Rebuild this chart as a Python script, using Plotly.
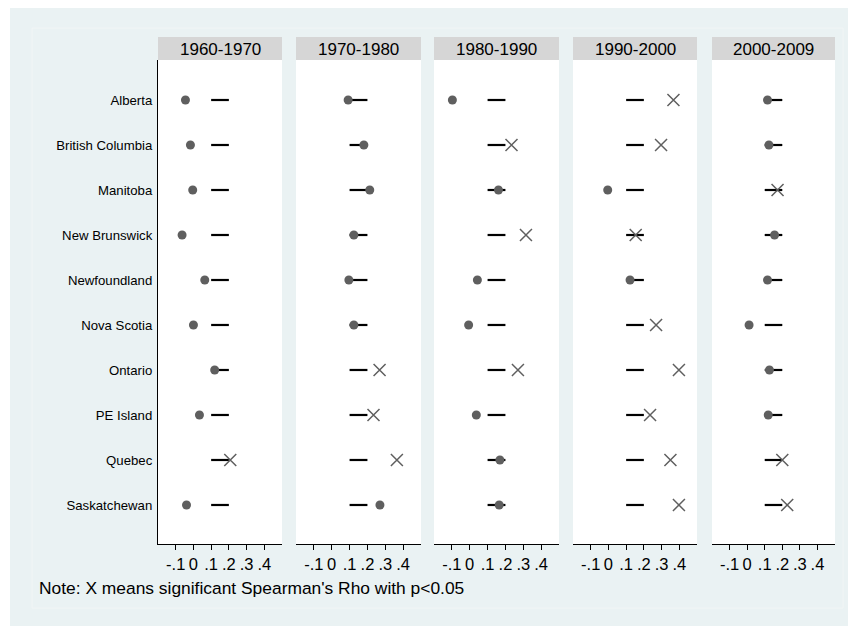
import plotly.graph_objects as go

periods = ["1960-1970", "1970-1980", "1980-1990", "1990-2000", "2000-2009"]
provinces = ["Alberta", "British Columbia", "Manitoba", "New Brunswick", "Newfoundland",
             "Nova Scotia", "Ontario", "PE Island", "Quebec", "Saskatchewan"]

rho_1960 = [-0.045, -0.017, -0.004, -0.064, 0.064, 0.000, 0.120, 0.034, 0.208, -0.039]
sig_1960 = [0, 0, 0, 0, 0, 0, 0, 0, 1, 0]
rho_1970 = [0.092, 0.180, 0.213, 0.124, 0.096, 0.124, 0.268, 0.234, 0.365, 0.270]
sig_1970 = [0, 0, 0, 0, 0, 0, 1, 1, 1, 0]
rho_1980 = [-0.097, 0.234, 0.161, 0.315, 0.043, -0.006, 0.270, 0.037, 0.169, 0.165]
sig_1980 = [0, 1, 0, 1, 0, 0, 1, 0, 0, 0]
rho_1990 = [0.367, 0.297, -0.004, 0.154, 0.122, 0.269, 0.398, 0.235, 0.350, 0.398]
sig_1990 = [1, 1, 0, 1, 0, 1, 1, 1, 1, 1]
rho_2000 = [0.116, 0.124, 0.173, 0.156, 0.116, 0.011, 0.127, 0.120, 0.200, 0.228]
sig_2000 = [0, 0, 1, 0, 0, 0, 0, 0, 1, 1]

band_low = [0.1, 0.1, 0.1, 0.1, 0.1, 0.1, 0.1, 0.1, 0.1, 0.1]
band_high = [0.2, 0.2, 0.2, 0.2, 0.2, 0.2, 0.2, 0.2, 0.2, 0.2]

tick_vals = [-0.1, 0, 0.1, 0.2, 0.3, 0.4]
tick_text = ["-.1", "0", ".1", ".2", ".3", ".4"]

rhos = [rho_1960, rho_1970, rho_1980, rho_1990, rho_2000]
sigs = [sig_1960, sig_1970, sig_1980, sig_1990, sig_2000]

# page has an 8px body margin; figure is sized so that it fits the 856x626 window
OFF = 8
W, H = 856 - OFF, 626 - OFF
FONT = "Liberation Sans, Arial, sans-serif"
MARK = "#5f5f5f"


def fx(px):
    return (px - OFF) / W


def fy(py):
    return 1 - (py - OFF) / H


panel_px = [(158, 282), (296, 421), (434, 559), (573, 697), (712, 835)]
y_top, y_bot = 60, 544
hdr_top = 37

fig = go.Figure()

for i, (rho, sig) in enumerate(zip(rhos, sigs)):
    ax = "" if i == 0 else str(i + 1)
    xref, yref = "x" + ax, "y" + ax
    sx, sy = [], []
    for lo, hi, p in zip(band_low, band_high, provinces):
        sx += [lo, hi, None]
        sy += [p, p, None]
    fig.add_trace(go.Scatter(x=sx, y=sy, mode="lines", line=dict(color="black", width=2.2),
                             xaxis=xref, yaxis=yref, showlegend=False, hoverinfo="skip"))
    dx = [v for v, s in zip(rho, sig) if not s]
    dy = [p for p, s in zip(provinces, sig) if not s]
    xx = [v for v, s in zip(rho, sig) if s]
    xy = [p for p, s in zip(provinces, sig) if s]
    fig.add_trace(go.Scatter(x=dx, y=dy, mode="markers",
                             marker=dict(symbol="circle", size=9, color=MARK),
                             xaxis=xref, yaxis=yref, showlegend=False))
    fig.add_trace(go.Scatter(x=xx, y=xy, mode="markers",
                             marker=dict(symbol="x-thin", size=12, line=dict(color=MARK, width=1.5)),
                             xaxis=xref, yaxis=yref, showlegend=False))

    x0, x1 = panel_px[i]
    xa = dict(domain=[fx(x0), fx(x1)], range=[-0.2, 0.5], tickvals=tick_vals, ticktext=tick_text,
              ticks="outside", ticklen=5, tickcolor="black", tickwidth=1,
              showline=True, linecolor="black", linewidth=1.2, mirror=False,
              showgrid=False, zeroline=False, anchor=yref,
              tickfont=dict(family=FONT, size=16.5, color="black"), fixedrange=True)
    ya = dict(domain=[fy(y_bot), fy(y_top)], type="category", categoryorder="array",
              categoryarray=provinces, range=[9.867, -0.889], showgrid=False, zeroline=False,
              anchor=xref, ticks="", fixedrange=True)
    if i == 0:
        ya.update(showline=True, linecolor="black", linewidth=1.2, showticklabels=True,
                  ticklabelstandoff=2,
                  tickfont=dict(family=FONT, size=13.2, color="black"))
    else:
        ya.update(showline=False, showticklabels=False)
    fig.update_layout(**{"xaxis" + ax: xa, "yaxis" + ax: ya})

    fig.add_shape(type="rect", xref="paper", yref="paper", x0=fx(x0), x1=fx(x1),
                  y0=fy(y_top), y1=fy(hdr_top), fillcolor="#d6d6d6",
                  line=dict(width=0), layer="above")
    fig.add_annotation(xref="paper", yref="paper", x=fx((x0 + x1) / 2),
                       y=fy((hdr_top + y_top) / 2 + 0.5), text=periods[i], showarrow=False,
                       font=dict(family=FONT, size=17, color="black"),
                       xanchor="center", yanchor="middle")

# faint inner frame of the graph region
fig.add_shape(type="rect", xref="paper", yref="paper", x0=fx(32), x1=fx(843),
              y0=fy(608), y1=fy(28), fillcolor="rgba(0,0,0,0)",
              line=dict(color="#f1f5f5", width=1), layer="above")
# white strip on the left edge
fig.add_shape(type="rect", xref="paper", yref="paper", x0=0, x1=fx(10),
              y0=0, y1=1, fillcolor="white", line=dict(width=0), layer="above")

fig.add_annotation(xref="paper", yref="paper", x=fx(37), y=fy(588),
                   text="Note: X means significant Spearman's Rho with p<0.05", showarrow=False,
                   font=dict(family=FONT, size=17.4, color="black"), xanchor="left", yanchor="middle")

fig.update_layout(width=W, height=H, margin=dict(l=0, r=0, t=0, b=0),
                  paper_bgcolor="#eaf2f3", plot_bgcolor="white",
                  font=dict(family=FONT))

fig.write_html("out.html")
